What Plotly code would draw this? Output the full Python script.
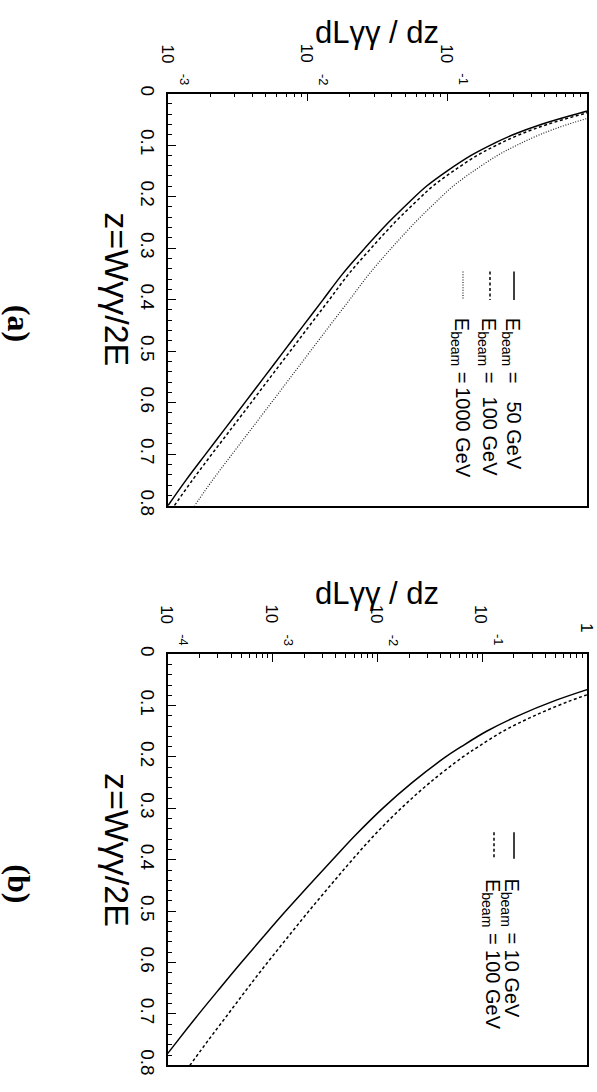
import math
import plotly.graph_objects as go

W, H = 597, 1092

# ---- panel (a): E_beam = 50, 100, 1000 GeV ----
z_a = [0.02, 0.04, 0.06, 0.08, 0.10, 0.12, 0.15, 0.18, 0.21, 0.25, 0.30,
       0.35, 0.40, 0.45, 0.50, 0.55, 0.60, 0.65, 0.70, 0.75, 0.80]
lum_a_50 = [1.585, 0.832, 0.468, 0.295, 0.204, 0.148, 0.100, 0.0708, 0.0537,
            0.0380, 0.0257, 0.0178, 0.0129, 0.00933, 0.00676, 0.00490,
            0.00355, 0.00257, 0.00186, 0.00135, 0.00100]
lum_a_100 = [1.758, 0.923, 0.519, 0.327, 0.226, 0.164, 0.111, 0.0785, 0.0596,
             0.0421, 0.0285, 0.0197, 0.0143, 0.01035, 0.00750, 0.00543,
             0.00394, 0.00285, 0.00206, 0.00150, 0.00111]
lum_a_1000 = [2.455, 1.289, 0.725, 0.457, 0.316, 0.229, 0.155, 0.1097, 0.0832,
              0.0589, 0.0398, 0.0276, 0.0200, 0.01445, 0.01047, 0.00759,
              0.00550, 0.00398, 0.00288, 0.00209, 0.00155]

# ---- panel (b): E_beam = 10, 100 GeV ----
z_b = [0.05, 0.069, 0.09, 0.12, 0.15, 0.18, 0.20, 0.25, 0.30, 0.35, 0.40,
       0.45, 0.50, 0.55, 0.60, 0.65, 0.70, 0.75, 0.80]
lum_b_10 = [1.995, 1.000, 0.501, 0.219, 0.110, 0.0631, 0.0447, 0.0214, 0.0112,
            0.00631, 0.00372, 0.00221, 0.00133, 0.000813, 0.000501,
            0.000313, 0.000197, 0.000126, 0.0000813]
lum_b_100 = [2.818, 1.413, 0.708, 0.313, 0.158, 0.0918, 0.0653, 0.0316,
             0.0168, 0.00955, 0.00575, 0.00355, 0.00221, 0.00140, 0.000891,
             0.000575, 0.000376, 0.000245, 0.000162]

# axis ticks
z_ticks = [0.0, 0.1, 0.2, 0.3, 0.4, 0.5, 0.6, 0.7, 0.8]
z_tick_text = ["0", "0.1", "0.2", "0.3", "0.4", "0.5", "0.6", "0.7", "0.8"]
z_minor = [round(0.02 * i, 2) for i in range(41) if i % 5]
lum_ticks_a = [1e-3, 1e-2, 1e-1]
lum_exp_a = ["-3", "-2", "-1"]
lum_ticks_b = [1e-4, 1e-3, 1e-2, 1e-1]
lum_exp_b = ["-4", "-3", "-2", "-1"]

labels_a = ["50 GeV", "100 GeV", "1000 GeV"]
labels_b = ["10 GeV", "100 GeV"]

FONT = "Liberation Sans, Arial, Helvetica, sans-serif"
SOLID = dict(color="black", width=1.5, dash="solid")
DASH = dict(color="black", width=1.5, dash="3px,2.5px")
DOT = dict(color="#222222", width=1.2, dash="1px,1.6px")


def px(p):
    return p / W


def py(p):
    return 1 - p / H


def minor_log(lo, hi):
    vals = []
    for e in range(lo, hi):
        for m in range(2, 10):
            vals.append(m * 10.0 ** e)
    return vals


fig = go.Figure()
for xs, st in ((lum_a_50, SOLID), (lum_a_100, DASH), (lum_a_1000, DOT)):
    fig.add_trace(go.Scatter(x=xs, y=z_a, mode="lines",
                             line=dict(shape="spline", smoothing=1.0, **st),
                             xaxis="x", yaxis="y", showlegend=False, hoverinfo="skip"))
for xs, st in ((lum_b_10, SOLID), (lum_b_100, DASH)):
    fig.add_trace(go.Scatter(x=xs, y=z_b, mode="lines",
                             line=dict(shape="spline", smoothing=1.0, **st),
                             xaxis="x2", yaxis="y2", showlegend=False, hoverinfo="skip"))

box_left, box_right = 168, 587


def log_axis(low, anchor):
    return dict(
        type="log", range=[low, 0], side="top", anchor=anchor,
        domain=[px(box_left), px(box_right)],
        showline=True, mirror=True, linecolor="black", linewidth=1.5,
        ticks="inside", ticklen=8, tickwidth=1.2, tickcolor="black",
        tickvals=[10.0 ** e for e in range(low, 1)], showticklabels=False,
        minor=dict(ticks="inside", ticklen=4, tickwidth=1, tickcolor="black",
                   tickvals=minor_log(low, 0), showgrid=False),
        showgrid=False, zeroline=False,
    )


def z_axis(top_px, bot_px, anchor):
    return dict(
        range=[0.8, 0], anchor=anchor, domain=[py(bot_px), py(top_px)],
        showline=True, mirror=True, linecolor="black", linewidth=1.5,
        ticks="inside", ticklen=8, tickwidth=1.2, tickcolor="black",
        tickvals=z_ticks, ticktext=z_tick_text, tickangle=90,
        tickfont=dict(family=FONT, size=19, color="black"),
        ticklabelstandoff=2,
        minor=dict(ticks="inside", ticklen=4, tickwidth=1, tickcolor="black",
                   tickvals=z_minor, showgrid=False),
        showgrid=False, zeroline=False,
    )


fig.update_layout(
    width=W, height=H, margin=dict(l=0, r=0, t=0, b=0),
    paper_bgcolor="white", plot_bgcolor="white", showlegend=False,
    xaxis=log_axis(-3, "y"), yaxis=z_axis(87, 506, "x"),
    xaxis2=log_axis(-4, "y2"), yaxis2=z_axis(657, 1075, "x2"),
)

ann = []
shapes = []


def text(x, y, s, size, angle=90, xref="paper", yref="paper", xa="center", ya="middle",
         family=FONT, xshift=0):
    ann.append(dict(x=x, y=y, xref=xref, yref=yref, text=s, showarrow=False,
                    textangle=angle, xanchor=xa, yanchor=ya, xshift=xshift,
                    font=dict(family=family, size=size, color="black")))


# decade labels above each log axis
for ticks, exps, xr, top in ((lum_ticks_a, lum_exp_a, "x", 87), (lum_ticks_b, lum_exp_b, "x2", 657)):
    for t, e in zip(ticks, exps):
        lx = math.log10(t)
        text(lx, py(top - 29), "10", 17, xref=xr, ya="bottom", xshift=-1)
        text(lx, py(top - 6), e, 13, xref=xr, ya="bottom", xshift=16)
text(0, py(657 - 21), "1", 17, xref="x2", ya="bottom")

# axis titles and panel tags
for top, mid, tag in ((87, 296, "(a)"), (657, 866, "(b)")):
    text(px(377), py(top - 42), "dL\u03b3\u03b3 / dz", 31, angle=0, ya="bottom")
    text(px(117), py(mid - 10), "z=W\u03b3\u03b3/2E", 34)
    text(px(19), py(mid + 24), "<b>" + tag + "</b>", 32,
         family="Liberation Serif, Times New Roman, serif")

# legend, panel (a)
for xc, lab, st, ystart in zip((514, 490, 463), labels_a, (SOLID, DASH, DOT), (398, 393, 383)):
    shapes.append(dict(type="line", xref="paper", yref="paper", x0=px(xc), x1=px(xc),
                       y0=py(268), y1=py(297), line=st))
    text(px(xc - 3), py(313), "E<sub>beam</sub> =", 20, ya="top")
    text(px(xc), py(ystart), lab, 20, ya="top")

# legend, panel (b)
for xc, lab, st in zip((514, 494), labels_b, (SOLID, DASH)):
    shapes.append(dict(type="line", xref="paper", yref="paper", x0=px(xc), x1=px(xc),
                       y0=py(838), y1=py(865), line=st))
    text(px(xc - 3), py(883), "E<sub>beam</sub> = " + lab, 20, ya="top")

fig.update_layout(annotations=ann, shapes=shapes)
fig.write_html("out.html")
